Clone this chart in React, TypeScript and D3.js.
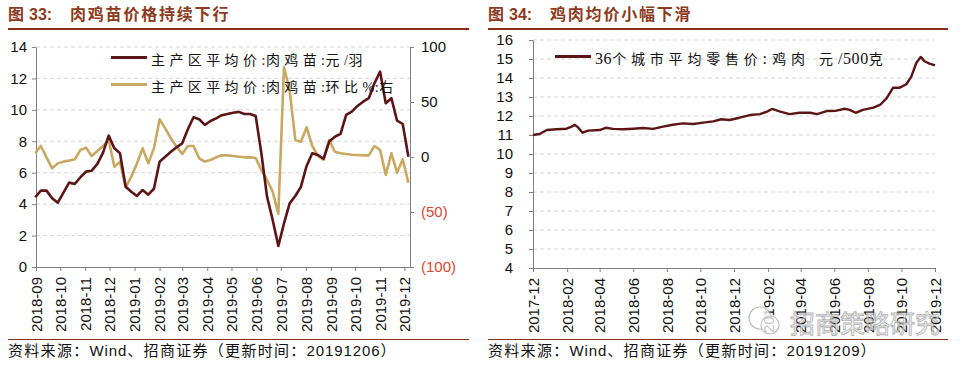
import * as d3 from 'd3';
import { useEffect, useRef } from 'react';

const W = 962;
const H = 368;

// 图33: weekly series, first week 2018-08-31, last week 2019-12-06
const chickFirstWeek = '2018-08-31';
const chickPrice = [
  4.44, 4.86, 4.86, 4.37, 4.09, 4.73, 5.37, 5.28, 5.71, 6.07, 6.13, 6.56, 7.28, 8.36, 7.55, 7.24, 5.11,
  4.79, 4.52, 4.9, 4.6, 4.98, 6.7, 7.02, 7.34, 7.62, 7.87, 8.77, 9.53, 9.4, 9.04, 9.29, 9.46, 9.66,
  9.74, 9.82, 9.87, 9.74, 9.74, 9.61, 7.24, 4.48, 2.99, 1.34, 2.78, 4.05, 4.52, 5.11, 6.43, 7.24, 7.13,
  6.89, 7.98, 8.29, 8.47, 9.68, 9.89, 10.25, 10.52, 10.74, 11.69, 12.43, 10.42, 10.74, 9.31, 9.1, 7.02,
];
const chickChange = [
  3.4, 10, -0.3, -10.3, -5.8, -4.2, -3.3, -2.1, 6.4, 8.5, 0.9, 5.5, 10, 15.5, -8.8, -4.2, -27.6, -17.9,
  -5.8, 7.9, -5.8, 7.9, 34.2, 26, 17, 9.4, 2.7, 10, 10, -1.2, -4.2, -2.7, -0.3, 1.5, 1.5, 0.9, 0.3, -0.3,
  -0.3, -0.9, -11.8, -20.9, -31.5, -51.8, 81.5, 60.9, 15.5, 13.9, 27, 10, 0.9, -2.7, 15.5, 4.8, 3.4, 2.7,
  2.1, 1.8, 1.5, 1.5, 10, 6.4, -16.4, 3.4, -14.3, -2.1, -23.4,
];
const chickMonths = [
  '2018-09', '2018-10', '2018-11', '2018-12', '2019-01', '2019-02', '2019-03', '2019-04',
  '2019-05', '2019-06', '2019-07', '2019-08', '2019-09', '2019-10', '2019-11', '2019-12',
];
const chickLeftTicks = [0, 2, 4, 6, 8, 10, 12, 14];
const chickRightTicks = [-100, -50, 0, 50, 100];

// 图34: 36个城市平均零售价: 鸡肉
const meatDates = [
  '2017-12-01', '2017-12-13', '2017-12-26', '2018-01-13', '2018-01-31', '2018-02-09', '2018-02-15',
  '2018-02-21', '2018-03-01', '2018-03-11', '2018-04-01', '2018-04-12', '2018-04-25', '2018-05-14',
  '2018-06-01', '2018-06-19', '2018-07-07', '2018-07-25', '2018-08-12', '2018-08-30', '2018-09-18',
  '2018-10-06', '2018-10-24', '2018-11-08', '2018-11-23', '2018-12-11', '2018-12-30', '2019-01-17',
  '2019-01-30', '2019-02-08', '2019-02-23', '2019-03-12', '2019-03-30', '2019-04-18', '2019-05-01',
  '2019-05-18', '2019-06-05', '2019-06-20', '2019-06-29', '2019-07-10', '2019-07-23', '2019-08-11',
  '2019-08-23', '2019-09-04', '2019-09-16', '2019-09-28', '2019-10-10', '2019-10-19', '2019-10-28',
  '2019-11-05', '2019-11-12', '2019-11-21', '2019-12-01',
];
const meatPrice = [
  11.0, 11.05, 11.26, 11.3, 11.33, 11.44, 11.53, 11.4, 11.12, 11.23, 11.26, 11.38, 11.32, 11.3, 11.33,
  11.37, 11.32, 11.44, 11.54, 11.61, 11.58, 11.65, 11.72, 11.83, 11.79, 11.91, 12.05, 12.1, 12.23, 12.37,
  12.23, 12.1, 12.17, 12.17, 12.1, 12.26, 12.28, 12.38, 12.32, 12.17, 12.32, 12.44, 12.58, 12.93, 13.49,
  13.49, 13.67, 14.07, 14.79, 15.11, 14.88, 14.76, 14.66,
];
const meatMonths = [
  '2017-12', '2018-02', '2018-04', '2018-06', '2018-08', '2018-10', '2018-12', '2019-02',
  '2019-04', '2019-06', '2019-08', '2019-10', '2019-12',
];
const meatTicks = [4, 5, 6, 7, 8, 9, 10, 11, 12, 13, 14, 15, 16];

const DARK = '#5c1517';
const GOLD = '#c9a862';
const TITLE = '#8c3a20';
const RULE = '#8b2e1e';
const NEG = '#d9452e';
const AXIS = '#808080';
const CJK = '"Noto Sans CJK SC", sans-serif';
const NUM = '"Liberation Sans", Arial, sans-serif';
const SERIF = '"Liberation Serif", serif';

const parseDay = d3.timeParse('%Y-%m-%d');
const parseMonth = d3.timeParse('%Y-%m');
const cjkRe = /[\u3000-\u9fff\uff00-\uffef]/;

const App = (): React.ReactElement => {
  const ref: any = useRef();

  useEffect(() => {
    const svg = d3.select(ref.current).attr('width', W).attr('height', H);
    svg.selectAll('*').remove();
    svg.append('rect').attr('width', W).attr('height', H).attr('fill', '#fff');

    // text with CJK and latin runs in their own fonts / spacing
    const rich = (x: number, y: number, str: string, size: number, cjkLs: number, latinFont: string, latinLs: number, latinSize = size) => {
      const t = svg.append('text').attr('x', x).attr('y', y).attr('font-size', size).attr('fill', '#111');
      const runs = str.match(/[\u3000-\u9fff\uff00-\uffef]+|[^\u3000-\u9fff\uff00-\uffef]+/g) || [];
      runs.forEach((r) => {
        const isCjk = cjkRe.test(r);
        t.append('tspan')
          .attr('font-family', isCjk ? CJK : latinFont)
          .attr('font-size', isCjk ? size : latinSize)
          .attr('letter-spacing', isCjk ? cjkLs : latinLs)
          .style('white-space', 'pre')
          .text(r);
      });
      return t;
    };

    const header = (x0: number, x1: number, num: string, title: string, source: string) => {
      const t = svg
        .append('text')
        .attr('y', 20)
        .attr('font-weight', 'bold')
        .attr('font-size', 16)
        .attr('fill', TITLE);
      t.append('tspan').attr('x', x0).attr('font-family', CJK).text('图');
      t.append('tspan').attr('x', x0 + 21).attr('font-family', NUM).text(num + ':');
      t.append('tspan').attr('x', x0 + 62).attr('font-family', CJK).attr('letter-spacing', 1.8).text(title);
      svg.append('line').attr('x1', x0).attr('x2', x1).attr('y1', 29).attr('y2', 29).attr('stroke', RULE).attr('stroke-width', 2);
      svg.append('line').attr('x1', x0).attr('x2', x1).attr('y1', 339.5).attr('y2', 339.5).attr('stroke', RULE).attr('stroke-width', 1.2);
      rich(x0, 356, source, 15, 1.3, NUM, 0.9);
    };

    const styleAxis = (g: any) => {
      g.selectAll('path').attr('stroke', AXIS);
      g.selectAll('line').attr('stroke', AXIS);
      g.selectAll('text').attr('font-family', NUM).attr('font-size', 15).attr('fill', '#111');
    };

    const rotateLabels = (g: any) => {
      g.selectAll('text')
        .attr('y', 0)
        .attr('x', -10)
        .attr('dy', '0.35em')
        .attr('transform', 'rotate(-90)')
        .attr('text-anchor', 'end');
    };

    const legendItem = (x: number, lineY: number, textY: number, color: string, label: string, ls: number, latinSize: number) => {
      svg.append('line').attr('x1', x).attr('x2', x + 36).attr('y1', lineY).attr('y2', lineY).attr('stroke', color).attr('stroke-width', 3);
      rich(x + 40, textY, label, 14, ls, SERIF, 0.6, latinSize);
    };

    // ---------- 图33 ----------
    header(8, 469, '33', '肉鸡苗价格持续下行', '资料来源：Wind、招商证券（更新时间：20191206）');

    const start = parseDay(chickFirstWeek) as Date;
    const weeks = chickPrice.map((_, i) => d3.timeDay.offset(start, 7 * i));
    const xL = d3.scaleTime().domain([new Date(2018, 8, 1), new Date(2019, 11, 8)]).range([36, 410]);
    const yL = d3.scaleLinear().domain([0, 14]).range([267, 47]);
    const yR = d3.scaleLinear().domain([-100, 100]).range([267, 47]);

    svg
      .append('g')
      .selectAll('line')
      .data(chickLeftTicks.filter((d) => d > 0))
      .enter()
      .append('line')
      .attr('x1', 36)
      .attr('x2', 410)
      .attr('y1', (d) => yL(d))
      .attr('y2', (d) => yL(d))
      .attr('stroke', '#d6d6d6')
      .attr('stroke-dasharray', '4,3');

    const axL = svg
      .append('g')
      .attr('transform', 'translate(36,0)')
      .call(d3.axisLeft(yL).tickValues(chickLeftTicks).tickSize(4).tickPadding(5).tickSizeOuter(0));
    styleAxis(axL);

    const axR = svg
      .append('g')
      .attr('transform', 'translate(410,0)')
      .call(
        d3
          .axisRight(yR)
          .tickValues(chickRightTicks)
          .tickSize(4)
          .tickPadding(7)
          .tickSizeOuter(0)
          .tickFormat((d: any) => (d < 0 ? '(' + Math.abs(d) + ')' : String(d))),
      );
    styleAxis(axR);
    axR.selectAll('text').attr('fill', (d: any) => (d < 0 ? NEG : '#111'));

    const axB = svg
      .append('g')
      .attr('transform', 'translate(0,267)')
      .call(
        d3
          .axisBottom(xL)
          .tickValues(chickMonths.map((m) => parseMonth(m) as Date))
          .tickFormat(d3.timeFormat('%Y-%m') as any)
          .tickSize(4)
          .tickSizeOuter(0),
      );
    styleAxis(axB);
    rotateLabels(axB);

    const lineL = d3
      .line<number>()
      .x((_, i) => xL(weeks[i]))
      .y((d) => yL(d));
    const lineR = d3
      .line<number>()
      .x((_, i) => xL(weeks[i]))
      .y((d) => yR(d));

    svg.append('path').datum(chickChange).attr('d', lineR).attr('fill', 'none').attr('stroke', GOLD).attr('stroke-width', 2.6).attr('stroke-linejoin', 'round');
    svg.append('path').datum(chickPrice).attr('d', lineL).attr('fill', 'none').attr('stroke', DARK).attr('stroke-width', 2.6).attr('stroke-linejoin', 'round');

    legendItem(111, 57.5, 65, DARK, '主产区平均价:肉鸡苗:元/羽', 4.4, 14);
    legendItem(111, 84.5, 92, GOLD, '主产区平均价:肉鸡苗:环比%:右', 4.4, 14);

    // ---------- 图34 ----------
    header(488, 948, '34', '鸡肉均价小幅下滑', '资料来源：Wind、招商证券（更新时间：20191209）');

    const xM = d3.scaleTime().domain([new Date(2017, 11, 1), new Date(2019, 11, 1)]).range([533, 935]);
    const yM = d3.scaleLinear().domain([4, 16]).range([268, 40]);

    svg
      .append('g')
      .selectAll('line')
      .data(meatTicks.filter((d) => d > 4))
      .enter()
      .append('line')
      .attr('x1', 533)
      .attr('x2', 935)
      .attr('y1', (d) => yM(d))
      .attr('y2', (d) => yM(d))
      .attr('stroke', '#d6d6d6')
      .attr('stroke-dasharray', '4,3');

    const axM = svg
      .append('g')
      .attr('transform', 'translate(533,0)')
      .call(d3.axisLeft(yM).tickValues(meatTicks).tickSize(4).tickPadding(16).tickSizeOuter(0));
    styleAxis(axM);

    const axMB = svg
      .append('g')
      .attr('transform', 'translate(0,268)')
      .call(
        d3
          .axisBottom(xM)
          .tickValues(meatMonths.map((m) => parseMonth(m) as Date))
          .tickFormat(d3.timeFormat('%Y-%m') as any)
          .tickSize(4)
          .tickSizeOuter(0),
      );
    styleAxis(axMB);
    rotateLabels(axMB);

    const meatLine = d3
      .line<number>()
      .x((_, i) => xM(parseDay(meatDates[i]) as Date))
      .y((d) => yM(d));
    svg.append('path').datum(meatPrice).attr('d', meatLine).attr('fill', 'none').attr('stroke', DARK).attr('stroke-width', 2.4).attr('stroke-linejoin', 'round');

    legendItem(555, 56.5, 63.5, DARK, '36个城市平均零售价: 鸡肉  元/500克', 4.8, 16);

    // watermark
    const wm = svg.append('g').attr('opacity', 0.75);
    wm.append('circle').attr('cx', 760).attr('cy', 318).attr('r', 11).attr('fill', '#fff').attr('stroke', '#aaa').attr('stroke-width', 1.2);
    wm.append('circle').attr('cx', 770).attr('cy', 325).attr('r', 9).attr('fill', '#fff').attr('stroke', '#aaa').attr('stroke-width', 1.2);
    wm.append('text')
      .attr('x', 790)
      .attr('y', 333)
      .attr('font-family', CJK)
      .attr('font-size', 25)
      .attr('fill', '#fff')
      .attr('stroke', '#999')
      .attr('stroke-width', 0.9)
      .attr('textLength', 150)
      .text('招商策略研究');
  }, []);

  return <svg ref={ref} style={{ position: 'absolute', left: 0, top: 0 }} />;
};

// eslint-disable-next-line import/no-default-export
export default App;
